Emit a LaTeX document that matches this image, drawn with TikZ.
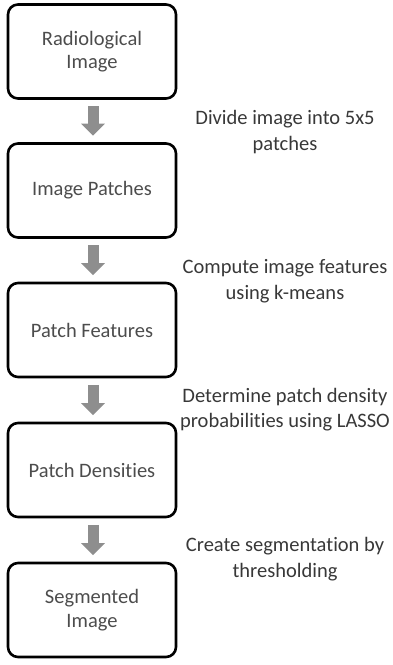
\documentclass[tikz,border=0pt]{standalone}
\usepackage{fontspec}
\setmainfont[Ligatures=NoCommon]{Carlito}
\usetikzlibrary{arrows.meta}
\definecolor{boxtext}{HTML}{4C4C4C}
\definecolor{steptext}{HTML}{383838}
\definecolor{flowgray}{HTML}{8E8E8E}
\tikzset{
  stage/.style={draw=black, line width=2.6pt, rounded corners=10pt,
    minimum width=168pt, minimum height=94pt, align=center,
    text=boxtext, font=\fontsize{20.5}{23.5}\selectfont, inner sep=0pt},
  stepnote/.style={align=center, text=steptext,
    font=\fontsize{20.5}{25.5}\selectfont, inner sep=0pt},
  flow/.style={draw=flowgray, line width=11pt,
    -{Triangle[width=23pt,length=12pt,fill=flowgray]},
    shorten <=6.5pt, shorten >=6.5pt}
}
\begin{document}
\begin{tikzpicture}[x=1pt,y=-1pt]
  \useasboundingbox (0,0) rectangle (393,665);
  % processing stages
  \node[stage] (img)  at (92,51.5) {Radiological\\Image};
  \node[stage] (pat)  at (92,190.5) {Image Patches};
  \node[stage] (feat) at (92,330) {Patch Features};
  \node[stage] (dens) at (92,470) {Patch Densities};
  \node[stage] (seg)  at (92,610) {Segmented\\Image};
  % flow between stages
  \draw[flow] ([xshift=1pt]img.south)  -- ([xshift=1pt]pat.north);
  \draw[flow] ([xshift=1pt]pat.south)  -- ([xshift=1pt]feat.north);
  \draw[flow] ([xshift=1pt]feat.south) -- ([xshift=1pt]dens.north);
  \draw[flow] ([xshift=1pt]dens.south) -- ([xshift=1pt]seg.north);
  % step descriptions
  \node[stepnote] (n1) at (285,132) {Divide image into 5x5\\patches};
  \node[stepnote] (n2) at (285,281) {Compute image features\\using k-means};
  \node[stepnote] (n3) at (285,409.5) {Determine patch density\\probabilities using LASSO};
  \node[stepnote] (n4) at (285,559) {Create segmentation by\\thresholding};
\end{tikzpicture}
\end{document}
